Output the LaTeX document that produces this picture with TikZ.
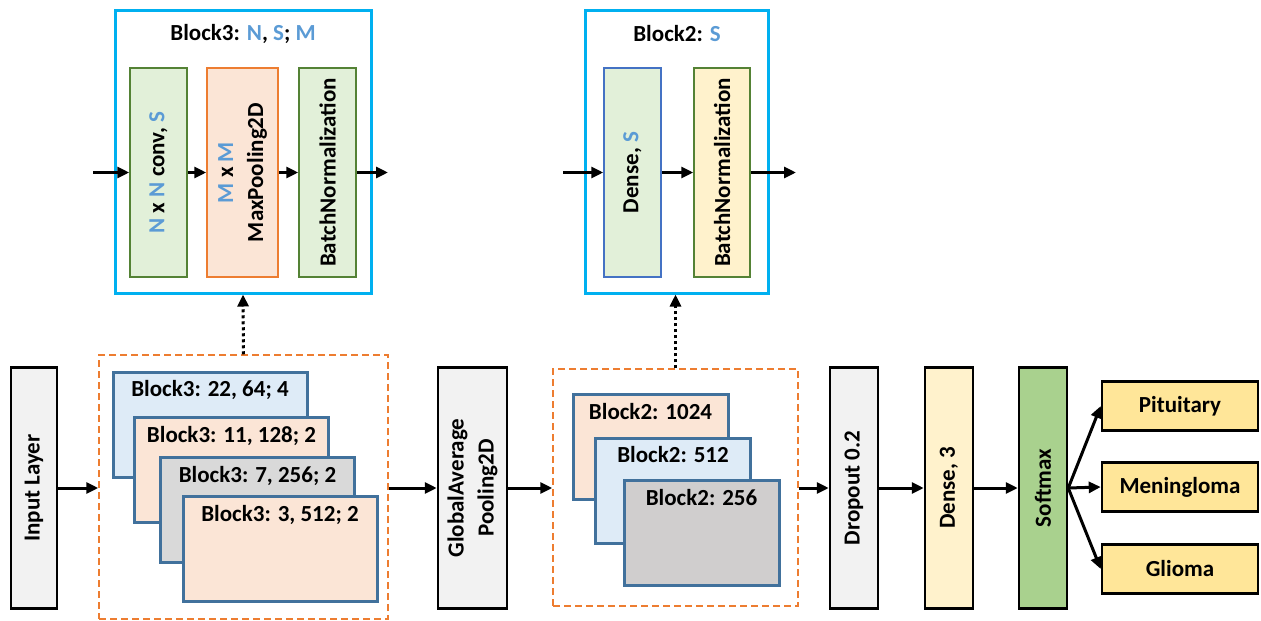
\documentclass[tikz,border=0pt]{standalone}
\usepackage{fontspec}
\setmainfont{Carlito}
\usetikzlibrary{arrows.meta}
\definecolor{cyanline}{HTML}{00B0F0}
\definecolor{grnline}{HTML}{548235}
\definecolor{grnfill}{HTML}{E2F0D9}
\definecolor{orline}{HTML}{ED7D31}
\definecolor{peach}{HTML}{FBE5D6}
\definecolor{hlblue}{HTML}{5B9BD5}
\definecolor{dnsline}{HTML}{4472C4}
\definecolor{yelfill}{HTML}{FFF2CC}
\definecolor{steel}{HTML}{41719C}
\definecolor{ltblue}{HTML}{DEEBF7}
\definecolor{gryfill}{HTML}{D9D9D9}
\definecolor{gryfillb}{HTML}{D0CECE}
\definecolor{ltgray}{HTML}{F2F2F2}
\definecolor{smgreen}{HTML}{A9D18E}
\definecolor{clsfill}{HTML}{FFE699}
\newcommand{\bluetxt}[1]{\textcolor{hlblue}{#1}}
\tikzset{
    every node/.style={font=\fontsize{23}{30}\selectfont\bfseries, inner sep=2pt},
    topframe/.style={draw=cyanline, line width=3, minimum height=283},
    inbox/.style={rotate=90, line width=1.5, minimum width=209},
    layer/.style={draw, rotate=90, line width=2.5, minimum width=241, align=center},
    dframe/.style={draw=orline, line width=1.5, dash pattern=on 7pt off 4pt},
    stack/.style={draw=steel, line width=3, minimum height=105},
    stacklbl/.style={anchor=north, yshift=-8pt},
    cls/.style={draw, line width=2.5, fill=clsfill, minimum width=156, minimum height=49},
    arr/.style={line width=3, -{Triangle[length=12pt, width=11pt]}},
    dotarr/.style={line width=3, dash pattern=on 3pt off 3pt, -{Triangle[length=12pt, width=11pt]}}
}
\begin{document}
\begin{tikzpicture}[x=1pt, y=-1pt]
	\useasboundingbox (0,0) rectangle (1261,621);
	\node (b3) [topframe, minimum width=256] at (243,151.5) {};
	\node (b3t) at (243,34) {Block3: \bluetxt{N}, \bluetxt{S}; \bluetxt{M}};
	\node (conv) [inbox, draw=grnline, fill=grnfill, minimum height=57] at (158.5,172.5) {\bluetxt{N} x \bluetxt{N} conv, \bluetxt{S}};
	\node (pool) [inbox, draw=orline, fill=peach, minimum height=71, align=center] at (242.5,172.5) {\bluetxt{M} x \bluetxt{M}\\MaxPooling2D};
	\node (bn) [inbox, draw=grnline, fill=grnfill, minimum height=57] at (327.5,172.5) {BatchNormalization};
	\coordinate (c0) at (93,172.5);
	\coordinate (c1) at (388,172.5);

	\node (b2) [topframe, minimum width=183] at (676.5,151.5) {};
	\node (b2t) at (677,34) {Block2: \bluetxt{S}};
	\node (dns) [inbox, draw=dnsline, fill=grnfill, minimum height=57] at (632.5,172.5) {Dense, \bluetxt{S}};
	\node (bn2) [inbox, draw=grnline, fill=yelfill, minimum height=56] at (722,172.5) {BatchNormalization};
	\coordinate (d0) at (563,172.5);
	\coordinate (d1) at (796,172.5);

	\node (in) [layer, fill=ltgray, minimum height=46] at (34,488) {Input Layer};
	\node (f1) [dframe, minimum width=289, minimum height=264] at (243.5,487) {};
	\node (s1) [stack, fill=ltblue, minimum width=194, label={[stacklbl]north:{Block3: 22, 64; 4}}] at (210,424.5) {};
	\node (s2) [stack, fill=peach, minimum width=194, label={[stacklbl]north:{Block3: 11, 128; 2}}] at (231.5,470) {};
	\node (s3) [stack, fill=gryfill, minimum width=194, label={[stacklbl]north:{Block3: 7, 256; 2}}] at (257.5,510) {};
	\node (s4) [stack, fill=peach, minimum width=194, label={[stacklbl]north:{Block3: 3, 512; 2}}] at (280,549) {};
	\node (gap) [layer, fill=ltgray, minimum height=69] at (472.5,488) {GlobalAverage\\Pooling2D};
	\node (f2) [dframe, minimum width=245, minimum height=237] at (675.5,487.5) {};
	\node (k1) [stack, fill=peach, minimum width=155, label={[stacklbl]north:{Block2: 1024}}] at (650.5,447) {};
	\node (k2) [stack, fill=ltblue, minimum width=155, label={[stacklbl]north:{Block2: 512}}] at (673,490.5) {};
	\node (k3) [stack, fill=gryfillb, minimum width=155, label={[stacklbl]north:{Block2: 256}}] at (701.5,533) {};
	\node (drop) [layer, fill=ltgray, minimum height=48] at (854,488) {Dropout 0.2};
	\node (d3) [layer, fill=yelfill, minimum height=48] at (949,488) {Dense, 3};
	\node (soft) [layer, fill=smgreen, minimum height=48] at (1043,488) {Softmax};
	\node (pit) [cls] at (1180,406) {Pituitary};
	\node (men) [cls] at (1180,487) {Meningloma};
	\node (gli) [cls] at (1180,569) {Glioma};

	\draw[arr] (c0) -- (conv); \draw[arr] (conv) -- (pool);
	\draw[arr] (pool) -- (bn); \draw[arr] (bn) -- (c1);
	\draw[arr] (d0) -- (dns); \draw[arr] (dns) -- (bn2);
	\draw[arr] (bn2) -- (d1);
	\draw[dotarr] (f1.north) -- (b3.south);
	\draw[dotarr] (f2.north) -- (f2.north |- b2.south);

	\draw[arr] (in) -- (in -| f1.west); \draw[arr] (f1.east |- gap) -- (gap);
	\draw[arr] (gap) -- (gap -| f2.west); \draw[arr] (f2.east |- drop) -- (drop);
	\draw[arr] (drop) -- (d3); \draw[arr] (d3) -- (soft);
	\draw[arr] (soft.south) -- (pit.west); \draw[arr] (soft.south) -- (men.west);
	\draw[arr] (soft.south) -- (gli.west);
\end{tikzpicture}
\end{document}
